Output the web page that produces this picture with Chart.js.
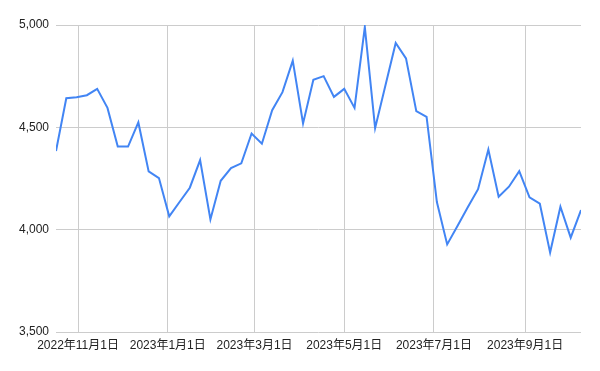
<!DOCTYPE html>
<html>
<head>
<meta charset="utf-8">
<script src="https://cdn.jsdelivr.net/npm/chart.js@4"></script>
<style>
  html, body { margin: 0; padding: 0; background: #fff; }
  #wrap { width: 600px; height: 371px; position: relative; }
</style>
</head>
<body>
<div id="wrap"><canvas id="c" width="600" height="371"></canvas></div>
<script>
const dates = [
  "2022-10-17","2022-10-24","2022-10-31","2022-11-07","2022-11-14","2022-11-21","2022-11-28",
  "2022-12-05","2022-12-12","2022-12-19","2022-12-26","2023-01-02","2023-01-09","2023-01-16",
  "2023-01-23","2023-01-30","2023-02-06","2023-02-13","2023-02-20","2023-02-27","2023-03-06",
  "2023-03-13","2023-03-20","2023-03-27","2023-04-03","2023-04-10","2023-04-17","2023-04-24",
  "2023-05-01","2023-05-08","2023-05-15","2023-05-22","2023-05-29","2023-06-05","2023-06-12",
  "2023-06-19","2023-06-26","2023-07-03","2023-07-10","2023-07-17","2023-07-24","2023-07-31",
  "2023-08-07","2023-08-14","2023-08-21","2023-08-28","2023-09-04","2023-09-11","2023-09-18",
  "2023-09-25","2023-10-02","2023-10-09"
];
const values = [
  4384, 4642, 4647, 4657, 4688, 4595, 4406, 4406, 4524, 4285, 4252, 4065, 4135, 4205,
  4340, 4050, 4239, 4301, 4324, 4470, 4420, 4584, 4672, 4826, 4519, 4732, 4750, 4649,
  4688, 4595, 4990, 4496, 4704, 4912, 4837, 4579, 4551, 4135, 3928, 4018, 4109, 4198,
  4392, 4161, 4210, 4286, 4158, 4127, 3888, 4112, 3961, 4096
];
const xTickDates = ["2022-11-01","2023-01-01","2023-03-01","2023-05-01","2023-07-01","2023-09-01"];
const yTicks = [3500, 4000, 4500, 5000];

const toTs = s => { const [y,m,d] = s.split("-").map(Number); return Date.UTC(y, m-1, d); };
const fmtDate = v => { const d = new Date(v); return d.getUTCFullYear() + "年" + (d.getUTCMonth()+1) + "月" + d.getUTCDate() + "日"; };

const FONT = "'Liberation Sans', Arial, 'Noto Sans CJK JP', sans-serif";

new Chart(document.getElementById("c"), {
  type: "line",
  data: {
    datasets: [{
      data: dates.map((d, i) => ({ x: toTs(d), y: values[i] })),
      borderColor: "#4285f4",
      borderWidth: 2,
      pointRadius: 0,
      tension: 0,
      fill: false
    }]
  },
  options: {
    responsive: false,
    animation: false,
    layout: { padding: { top: 25, right: 19, left: 0, bottom: 0 } },
    plugins: { legend: { display: false }, tooltip: { enabled: false } },
    scales: {
      x: {
        type: "linear",
        min: toTs(dates[0]),
        max: toTs(dates[dates.length - 1]),
        afterBuildTicks: s => { s.ticks = xTickDates.map(d => ({ value: toTs(d) })); },
        afterFit: s => { s.height = 39; },
        grid: { color: "#cccccc", lineWidth: 1, drawTicks: false },
        border: { display: false },
        ticks: {
          callback: v => fmtDate(v),
          color: "#222222",
          font: { family: FONT, size: 12 },
          padding: 6,
          maxRotation: 0,
          autoSkip: false
        }
      },
      y: {
        min: 3500,
        max: 5000,
        afterBuildTicks: s => { s.ticks = yTicks.map(v => ({ value: v })); },
        afterFit: s => { s.width = 56; },
        grid: { color: "#cccccc", lineWidth: 1, drawTicks: false },
        border: { display: false },
        ticks: {
          callback: v => v.toLocaleString("en-US"),
          color: "#222222",
          font: { family: FONT, size: 12 },
          padding: 7
        }
      }
    }
  }
});
</script>
</body>
</html>
